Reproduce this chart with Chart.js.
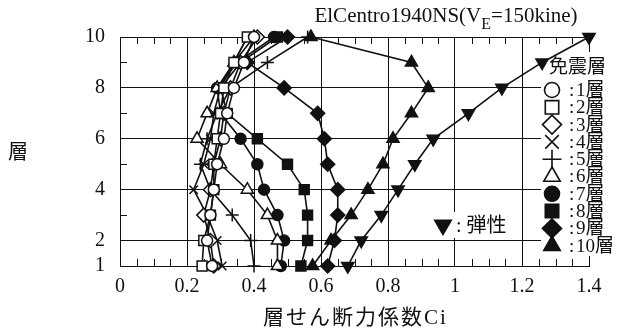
<!DOCTYPE html>
<html>
<head>
<meta charset="utf-8">
<script src="https://cdn.jsdelivr.net/npm/chart.js@4/dist/chart.umd.min.js"></script>
<style>
  html, body { margin: 0; padding: 0; background: #fff; }
  canvas { display: block; }
</style>
</head>
<body>
<canvas id="myChart" width="619" height="333"></canvas>
<script>
// 層 (story number) on the y axis
const stories = [1, 2, 3, 4, 5, 6, 7, 8, 9, 10];
const yTickValues = [1, 2, 4, 6, 8, 10];
const yMinorTicks = [3, 5, 7, 9];

// 層せん断力係数Ci for each isolation story (免震層) and the elastic case
const iso1  = [0.275, 0.26, 0.27, 0.28, 0.29, 0.31, 0.32, 0.34, 0.37, 0.40];
const iso2  = [0.245, 0.25, 0.27, 0.28, 0.28, 0.29, 0.30, 0.31, 0.34, 0.38];
const iso3  = [0.28, 0.27, 0.25, 0.27, 0.28, 0.30, 0.31, 0.33, 0.36, 0.41];
const iso4  = [0.305, 0.29, 0.26, 0.22, 0.25, 0.27, 0.28, 0.30, 0.34, 0.38];
const iso5  = [0.40, 0.39, 0.335, 0.27, 0.24, 0.26, 0.29, 0.33, 0.44, 0.56];
const iso6  = [0.47, 0.47, 0.44, 0.38, 0.30, 0.23, 0.26, 0.29, 0.34, 0.40];
const iso7  = [0.48, 0.49, 0.47, 0.43, 0.41, 0.36, 0.30, 0.29, 0.35, 0.46];
const iso8  = [0.54, 0.56, 0.56, 0.55, 0.50, 0.41, 0.32, 0.30, 0.36, 0.47];
const iso9  = [0.62, 0.64, 0.65, 0.65, 0.62, 0.61, 0.59, 0.49, 0.38, 0.50];
const iso10 = [0.575, 0.63, 0.69, 0.74, 0.785, 0.815, 0.87, 0.92, 0.87, 0.57];
const elastic = [0.68, 0.72, 0.78, 0.83, 0.88, 0.935, 1.04, 1.14, 1.26, 1.40];

const seriesNames = ['1層', '2層', '3層', '4層', '5層', '6層', '7層', '8層', '9層', '10層'];
const elasticName = '弾性';
const titleMain = 'ElCentro1940NS(V';
const titleSub = 'E';
const titleTail = '=150kine)';
const xTitle = '層せん断力係数Ci';
const yTitle = '層';
const legendTitle = '免震層';

const INK = '#111';
const SERIF = "'Liberation Serif', 'Noto Sans CJK JP', serif";

const markers = [
  { style: 'circle', fill: '#fff' },
  { style: 'rect', fill: '#fff' },
  { style: 'rectRot', fill: '#fff' },
  { style: 'crossRot', fill: '#fff' },
  { style: 'cross', fill: '#fff' },
  { style: 'triangle', fill: '#fff' },
  { style: 'circle', fill: INK },
  { style: 'rect', fill: INK },
  { style: 'rectRot', fill: INK },
  { style: 'triangle', fill: INK }
];
const sizes = { circle: 5.5, rect: 7, rectRot: 7, crossRot: 6, cross: 6.5, triangle: 7 };

const allSeries = [iso1, iso2, iso3, iso4, iso5, iso6, iso7, iso8, iso9, iso10];

const datasets = allSeries.map((vals, i) => ({
  label: seriesNames[i],
  data: stories.map((s, k) => ({ x: vals[k], y: s })),
  showLine: true,
  borderColor: INK,
  borderWidth: 1.6,
  pointStyle: markers[i].style,
  pointRadius: sizes[markers[i].style],
  pointBackgroundColor: markers[i].fill,
  pointBorderColor: INK,
  pointBorderWidth: 1.5,
  clip: false
}));
datasets.push({
  label: elasticName,
  data: stories.map((s, k) => ({ x: elastic[k], y: s })),
  showLine: true,
  borderColor: INK,
  borderWidth: 1.6,
  pointStyle: 'triangle',
  pointRotation: 180,
  pointRadius: 7,
  pointBackgroundColor: INK,
  pointBorderColor: INK,
  clip: false
});

function marker(ctx, style, fill, r, x, y, rot) {
  ctx.save();
  ctx.fillStyle = fill;
  ctx.strokeStyle = INK;
  ctx.lineWidth = 1.6;
  Chart.helpers.drawPoint(ctx, { pointStyle: style, radius: r, rotation: rot || 0, borderWidth: 1.6 }, x, y);
  ctx.restore();
}

const decor = {
  id: 'decor',
  beforeDraw(chart) {
    const ctx = chart.ctx;
    ctx.save();
    ctx.fillStyle = '#fff';
    ctx.fillRect(0, 0, chart.width, chart.height);
    ctx.restore();
  },
  beforeDatasetsDraw(chart) {
    const { ctx, chartArea: a, scales: { x, y } } = chart;
    ctx.save();
    // minor ticks, pointing inward
    ctx.strokeStyle = INK;
    ctx.lineWidth = 1;
    ctx.beginPath();
    for (let v = 0.05; v < 1.4; v += 0.05) {
      if (Math.abs(v / 0.2 - Math.round(v / 0.2)) < 1e-6) continue;
      const px = Math.round(x.getPixelForValue(v)) + 0.5;
      ctx.moveTo(px, a.bottom); ctx.lineTo(px, a.bottom - 7);
      ctx.moveTo(px, a.top); ctx.lineTo(px, a.top + 7);
    }
    yMinorTicks.forEach(v => {
      const py = Math.round(y.getPixelForValue(v)) + 0.5;
      ctx.moveTo(a.left, py); ctx.lineTo(a.left + 7, py);
    });
    ctx.stroke();
    // legend backgrounds
    ctx.fillStyle = '#fff';
    ctx.fillRect(541, 52, 78, 204);
    ctx.fillRect(432, 212, 90, 26);
    ctx.restore();
  },
  afterDraw(chart) {
    const { ctx, chartArea: a } = chart;
    ctx.save();
    ctx.fillStyle = INK;
    ctx.textBaseline = 'alphabetic';

    // title with subscript
    ctx.font = '21px ' + SERIF;
    const w1 = ctx.measureText(titleMain).width;
    const w3 = ctx.measureText(titleTail).width;
    ctx.font = '16px ' + SERIF;
    const w2 = ctx.measureText(titleSub).width;
    let tx = 446 - (w1 + w2 + w3) / 2;
    ctx.font = '21px ' + SERIF;
    ctx.fillText(titleMain, tx, 22);
    ctx.font = '16px ' + SERIF;
    ctx.fillText(titleSub, tx + w1, 29);
    ctx.font = '21px ' + SERIF;
    ctx.fillText(titleTail, tx + w1 + w2, 22);

    // axis titles
    ctx.textAlign = 'center';
    ctx.textBaseline = 'middle';
    ctx.font = '21px ' + SERIF;
    ctx.letterSpacing = '2px';
    ctx.fillText(xTitle, (a.left + a.right) / 2 + 1, 318);
    ctx.letterSpacing = '0px';
    ctx.font = '20px ' + SERIF;
    ctx.fillText(yTitle, 18, 154);

    // legend of isolation stories
    ctx.textAlign = 'left';
    ctx.font = '19px ' + SERIF;
    ctx.fillText(legendTitle, 549, 68);
    ctx.font = '19px ' + SERIF;
    markers.forEach((m, i) => {
      const yy = 90 + i * 17.3;
      marker(ctx, m.style, m.fill, m.style === 'circle' ? 7.5 : 9.5, 552, yy, 0);
      ctx.fillStyle = INK;
      ctx.fillText(':', 569, yy + 1);
      ctx.fillText(seriesNames[i], 576, yy + 1);
    });

    // elastic legend
    ctx.font = '20px ' + SERIF;
    marker(ctx, 'triangle', INK, 9.5, 443, 225, 180);
    ctx.fillStyle = INK;
    ctx.fillText(': ' + elasticName, 456, 227);
    ctx.restore();
  }
};

new Chart(document.getElementById('myChart'), {
  type: 'scatter',
  data: { datasets },
  plugins: [decor],
  options: {
    responsive: false,
    animation: false,
    layout: { padding: { top: 37, right: 30, bottom: 27, left: 0 } },
    plugins: { legend: { display: false }, tooltip: { enabled: false } },
    scales: {
      x: {
        type: 'linear', min: 0, max: 1.4,
        ticks: {
          stepSize: 0.2, color: INK, padding: 9,
          font: { family: SERIF, size: 20 },
          callback: v => String(+v.toFixed(1))
        },
        grid: { color: INK, lineWidth: 1, drawTicks: false },
        border: { color: INK, width: 1 },
        afterFit: s => { s.height = 40; }
      },
      y: {
        type: 'linear', min: 1, max: 10,
        afterBuildTicks: s => { s.ticks = yTickValues.map(v => ({ value: v })); },
        ticks: {
          color: INK, padding: 15,
          font: { family: SERIF, size: 20 }
        },
        grid: { color: INK, lineWidth: 1, drawTicks: false },
        border: { color: INK, width: 1 },
        afterFit: s => { s.width = 120; }
      }
    }
  }
});
</script>
</body>
</html>
